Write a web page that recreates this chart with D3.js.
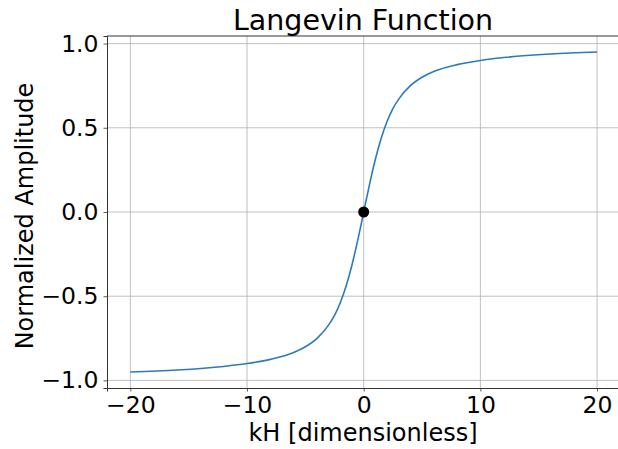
<!DOCTYPE html>
<html lang="en">
<head>
<meta charset="UTF-8">
<title>Langevin Function</title>
<style>
  body { margin: 0; background: #fff; }
  svg { display: block; font-family: "DejaVu Sans", sans-serif; }
</style>
</head>
<body>
<script src="https://d3js.org/d3.v7.min.js"></script>
<script>
// values
let kH = [-20, -16, -12, -10, -8, -6, -5, -4, -3, -2.5, -2, -1.5, -1, -0.5, 0,
          0.5, 1, 1.5, 2, 2.5, 3, 4, 5, 6, 8, 10, 12, 16, 20];
let amp = [-0.95, -0.938, -0.917, -0.90, -0.875, -0.834, -0.80, -0.75, -0.67, -0.614, -0.537, -0.438, -0.313, -0.164, 0,
           0.164, 0.313, 0.438, 0.537, 0.614, 0.67, 0.75, 0.80, 0.834, 0.875, 0.90, 0.917, 0.938, 0.95];
let xTicks = [-20, -10, 0, 10, 20];
let yTicks = [-1.0, -0.5, 0.0, 0.5, 1.0];
let marked = {x: 0, y: 0};

let w = 618, h = 449;
let inner = {left: 107, top: 36, bottom: 388};

let svg = d3.select("body").append("svg")
    .attr("width", w)
    .attr("height", h);

let xScale = d3.scaleLinear().domain([-22, 22]).range([inner.left, 620.4]);
let yScale = d3.scaleLinear().domain([-1.045, 1.045]).range([inner.bottom, inner.top]);

// grid
svg.append("g").selectAll("line").data(xTicks).enter().append("line")
    .attr("x1", d => xScale(d)).attr("x2", d => xScale(d))
    .attr("y1", inner.top).attr("y2", inner.bottom)
    .attr("stroke", "#b0b0b0").attr("stroke-width", 0.8);
svg.append("g").selectAll("line").data(yTicks).enter().append("line")
    .attr("x1", inner.left).attr("x2", w)
    .attr("y1", d => yScale(d)).attr("y2", d => yScale(d))
    .attr("stroke", "#b0b0b0").attr("stroke-width", 0.8);

// axes
let fmtY = d => d3.format(".1f")(d).replace("-", "\u2212");
let fmtX = d => String(d).replace("-", "\u2212");

let xAxis = svg.append("g")
    .attr("transform", "translate(0," + inner.bottom + ")")
    .call(d3.axisBottom(xScale).tickValues(xTicks).tickFormat(fmtX).tickSize(3.5).tickPadding(4.5));
let yAxis = svg.append("g")
    .attr("transform", "translate(" + inner.left + ",0)")
    .call(d3.axisLeft(yScale).tickValues(yTicks).tickFormat(fmtY).tickSize(3.5).tickPadding(5));

[xAxis, yAxis].forEach(a => {
    a.select(".domain").attr("stroke", "#333").attr("stroke-width", 1);
    a.selectAll(".tick line").attr("stroke", "#333").attr("stroke-width", 0.8);
    a.selectAll("text").attr("fill", "#000").style("font-size", "23.5px")
        .style("font-family", "DejaVu Sans, sans-serif");
});

// top spine
svg.append("line")
    .attr("x1", inner.left).attr("x2", w)
    .attr("y1", inner.top).attr("y2", inner.top)
    .attr("stroke", "#333").attr("stroke-width", 1);

// curve
let pts = kH.map((d, i) => [xScale(d), yScale(amp[i])]);
svg.append("path")
    .attr("d", d3.line().curve(d3.curveMonotoneX)(pts))
    .attr("fill", "none")
    .attr("stroke", "#2b7bba")
    .attr("stroke-width", 1.6);

svg.append("circle")
    .attr("cx", xScale(marked.x))
    .attr("cy", yScale(marked.y))
    .attr("r", 5.5)
    .attr("fill", "#000");

// texts
svg.append("text")
    .attr("x", 363).attr("y", 30)
    .attr("text-anchor", "middle")
    .style("font-size", "28.5px")
    .text("Langevin Function");

svg.append("text")
    .attr("x", 363).attr("y", 441)
    .attr("text-anchor", "middle")
    .style("font-size", "24px")
    .text("kH [dimensionless]");

svg.append("text")
    .attr("transform", "translate(33,216) rotate(-90)")
    .attr("text-anchor", "middle")
    .style("font-size", "24px")
    .text("Normalized Amplitude");
</script>
</body>
</html>
